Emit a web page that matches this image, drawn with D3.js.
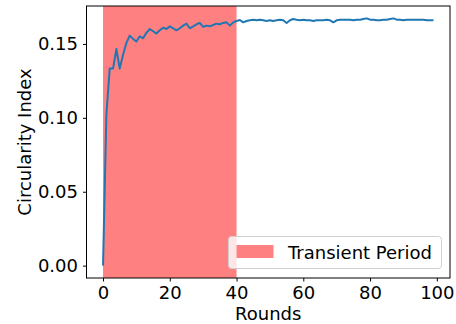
<!DOCTYPE html>
<html>
<head>
<meta charset="utf-8">
<script src="https://cdn.jsdelivr.net/npm/d3@7"></script>
<style>
  body { margin: 0; background: #fff; }
  text { font-family: "DejaVu Sans", sans-serif; }
</style>
</head>
<body>
<div id="chart"></div>
<script>
// circularity index per round
const rounds = d3.range(100);
const circularity = [
  0, 0.102, 0.1333, 0.1333, 0.1466, 0.1333, 0.1427, 0.1507, 0.1556, 0.1534,
  0.1516, 0.1552, 0.1538, 0.1575, 0.1601, 0.1586, 0.157, 0.1592, 0.161, 0.1601,
  0.1619, 0.1606, 0.1592, 0.1606, 0.1624, 0.1637, 0.1606, 0.1619, 0.1633, 0.1642,
  0.1615, 0.1624, 0.1619, 0.1628, 0.1637, 0.1633, 0.1642, 0.1646, 0.1624, 0.1646,
  0.1655, 0.1662, 0.1646, 0.1655, 0.166, 0.1664, 0.166, 0.1664, 0.166, 0.1655,
  0.166, 0.1655, 0.166, 0.1664, 0.166, 0.1642, 0.166, 0.1669, 0.1664, 0.166,
  0.1664, 0.166, 0.166, 0.1655, 0.166, 0.166, 0.166, 0.1664, 0.166, 0.1646,
  0.166, 0.1664, 0.1664, 0.1664, 0.1664, 0.166, 0.1664, 0.1664, 0.1669, 0.1673,
  0.1664, 0.1664, 0.166, 0.166, 0.1664, 0.1664, 0.1669, 0.1673, 0.1664, 0.1664,
  0.166, 0.1664, 0.1664, 0.1664, 0.1664, 0.1664, 0.1664, 0.166, 0.166, 0.166
];
const transient = [0, 40];
const xTicks = [0, 20, 40, 60, 80, 100];
const yTicks = [0, 0.05, 0.10, 0.15];

const width = 456, height = 324;
const margin = { top: 6, right: 6, bottom: 46, left: 86.5 };

const svg = d3.select('#chart').append('svg')
  .attr('width', width)
  .attr('height', height);

// matplotlib-style 5% padding
const xExt = d3.extent(rounds), yExt = d3.extent(circularity);
const xPad = (xExt[1] - xExt[0]) * 0.05, yPad = (yExt[1] - yExt[0]) * 0.05;

const x = d3.scaleLinear()
  .domain([xExt[0] - xPad, xExt[1] + xPad])
  .range([margin.left, width - margin.right]);
const y = d3.scaleLinear()
  .domain([yExt[0] - yPad, yExt[1] + yPad])
  .range([height - margin.bottom, margin.top]);

// shaded transient period
svg.append('rect')
  .attr('x', x(transient[0]))
  .attr('y', margin.top)
  .attr('width', x(transient[1]) - x(transient[0]))
  .attr('height', height - margin.bottom - margin.top)
  .attr('fill', '#ff8080');

const line = d3.line()
  .x((d, i) => x(rounds[i]))
  .y(d => y(d));

svg.append('path')
  .datum(circularity)
  .attr('fill', 'none')
  .attr('stroke', '#1f77b4')
  .attr('stroke-width', 2)
  .attr('stroke-linejoin', 'round')
  .attr('d', line);

// frame
svg.append('rect')
  .attr('x', margin.left)
  .attr('y', margin.top)
  .attr('width', width - margin.right - margin.left)
  .attr('height', height - margin.bottom - margin.top)
  .attr('fill', 'none')
  .attr('stroke', '#000')
  .attr('stroke-width', 1);

const xAxis = svg.append('g')
  .attr('transform', `translate(0,${height - margin.bottom})`)
  .call(d3.axisBottom(x).tickValues(xTicks).tickSize(3.5).tickPadding(5).tickFormat(d3.format('d')));
const yAxis = svg.append('g')
  .attr('transform', `translate(${margin.left},0)`)
  .call(d3.axisLeft(y).tickValues(yTicks).tickSize(3.5).tickPadding(5).tickFormat(d3.format('.2f')));

[xAxis, yAxis].forEach(a => {
  a.select('.domain').remove();
  a.selectAll('line').attr('stroke', '#000').attr('stroke-width', 1);
  a.selectAll('text').attr('font-size', 18).attr('fill', '#000')
    .style('font-family', '"DejaVu Sans", sans-serif');
});

svg.append('text')
  .attr('x', (margin.left + width - margin.right) / 2)
  .attr('y', 320)
  .attr('text-anchor', 'middle')
  .attr('font-size', 18)
  .text('Rounds');

svg.append('text')
  .attr('transform', `translate(31,${(margin.top + height - margin.bottom) / 2}) rotate(-90)`)
  .attr('text-anchor', 'middle')
  .attr('font-size', 18)
  .text('Circularity Index');

// legend
const lg = svg.append('g');
lg.append('rect')
  .attr('x', 228.5).attr('y', 236.5)
  .attr('width', 213).attr('height', 32)
  .attr('rx', 3)
  .attr('fill', 'rgba(255,255,255,0.8)')
  .attr('stroke', '#d0d0d0')
  .attr('stroke-width', 1);
lg.append('rect')
  .attr('x', 236.5).attr('y', 245)
  .attr('width', 37).attr('height', 13)
  .attr('fill', '#ff8080');
lg.append('text')
  .attr('x', 288).attr('y', 258.5)
  .attr('font-size', 18)
  .text('Transient Period');
</script>
</body>
</html>
